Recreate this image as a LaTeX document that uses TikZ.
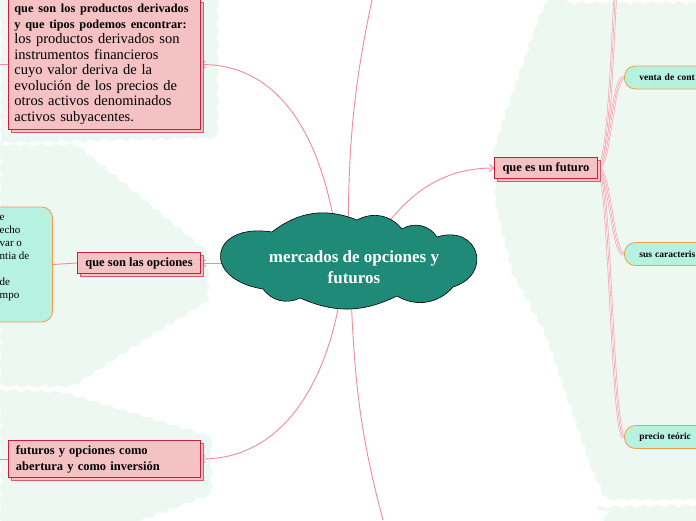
\documentclass[tikz,border=0pt]{standalone}
\usepackage{fontspec}
\setmainfont{Liberation Serif}
\usetikzlibrary{arrows.meta, positioning, shadows, decorations.pathmorphing}
\definecolor{bgmint}{HTML}{EEF8F2}
\definecolor{topicfill}{HTML}{F5C2C4}
\definecolor{topicline}{HTML}{C81E3A}
\definecolor{shadowred}{HTML}{D9596B}
\definecolor{leaffill}{HTML}{B7F2E1}
\definecolor{leafline}{HTML}{F0A042}
\definecolor{cloudteal}{HTML}{1E8A77}
\definecolor{linkpink}{HTML}{F28A98}
\pgfdeclarelayer{blobs}
\pgfdeclarelayer{wires}
\pgfsetlayers{blobs,wires,main}

\begin{document}
\begin{tikzpicture}[x=1pt, y=-1pt, >={Straight Barb[length=4pt, width=7pt]},
    topic/.style={draw=topicline, fill=topicfill, line width=0.8pt,
      general shadow={draw=shadowred, fill=topicfill, line width=0.8pt, shadow xshift=3pt, shadow yshift=-3pt},
      font=\bfseries\fontsize{12.5}{16}\selectfont, inner xsep=8pt, inner ysep=5pt},
    leaf/.style={draw=leafline, fill=leaffill, line width=0.8pt, rounded corners=11pt},
    link/.style={draw=linkpink, line width=0.9pt},
    branch/.style={draw=linkpink!75, line width=3.4pt, postaction={draw=white, line width=2pt},
      postaction={draw=linkpink!75, line width=0.7pt}},
    blob/.style={fill=bgmint, decorate, decoration={snake, amplitude=1.4pt, segment length=14pt}}]
  \useasboundingbox (0,0) rectangle (696,520);
  \coordinate (leftedge) at (0,0);

  % pale areas behind the branches
  \begin{pgfonlayer}{blobs}
    \fill[blob] (-5,-5) -- (212,-5) -- (212,133) -- (-5,138) -- cycle;
    \fill[blob] (-5,145) -- (70,145) -- (205,255) -- (205,300) -- (140,340) -- (70,385) -- (-5,385) -- cycle;
    \fill[blob] (-5,390) -- (60,392) -- (205,435) -- (205,490) -- (110,525) -- (-5,525) -- cycle;
    \fill[blob] (550,-5) -- (540,15) -- (507,110) -- (494,150) -- (496,200) -- (513,270) -- (547,333)
      -- (570,400) -- (593,467) -- (607,498) -- (701,498) -- (701,-5) -- cycle;
    \fill[blob] (597,507) -- (701,505) -- (701,525) -- (590,525) -- cycle;
  \end{pgfonlayer}

  % central cloud
  \draw[fill=cloudteal, draw=black, line width=0.6pt, line join=round]
    (263,289) to[bend left=90, looseness=2.8] (272,232) to[bend left=30] (357,220)
    to[bend left=40] (402,229) to[bend left=45] (437,237) to[bend left=90, looseness=2.1] (453,287)
    to[bend left=40] (397,296) to[bend left=25] (300,298) to[bend left=40] (263,289) -- cycle;
  \node[text=white, align=center, inner sep=0pt, font=\bfseries\fontsize{17}{21}\selectfont]
    (hub) at (354,267) {mercados de opciones y\\futuros};

  \node[topic, text width=180pt, align=left, inner xsep=6pt, anchor=south west, font=\fontsize{14.5}{15.5}\selectfont]
    (derivados) at (8,130) {{\bfseries\fontsize{12.3}{15.5}\selectfont que son los productos derivados}\\
    {\bfseries\fontsize{12.3}{15.5}\selectfont y que tipos podemos encontrar:}\\
    los productos derivados son\\instrumentos financieros\\cuyo valor deriva de la\\
    evolución de los precios de\\otros activos denominados\\activos subyacentes.};
  \node[topic] (opciones) at (139,263) {que son las opciones};
  \node[topic, text width=176pt, align=left] (abertura) at (104,459) {futuros y opciones como\\abertura y como inversión};
  \node[topic] (futuro) at (546,168) {que es un futuro};

  \node[leaf, minimum width=110pt, minimum height=115pt, anchor=east] (optleaf) at (53,264.5) {};
  \node[anchor=west, align=left, inner sep=0pt, font=\fontsize{11}{13}\selectfont] (optleaftext) at (-0.5,258)
    {e\\echo\\var o\\ntia de\\[13pt]de\\mpo};

  \node[leaf, anchor=west, text width=72pt, align=left, inner xsep=15pt, minimum height=23pt,
    font=\bfseries\fontsize{9.5}{11}\selectfont] (venta) at (624,77.5) {venta de cont};
  \node[leaf, anchor=west, text width=72pt, align=left, inner xsep=15pt, minimum height=23pt,
    font=\bfseries\fontsize{9.5}{11}\selectfont] (rasgos) at (624,254) {sus caracteris};
  \node[leaf, anchor=west, text width=72pt, align=left, inner xsep=15pt, minimum height=23pt,
    font=\bfseries\fontsize{9.5}{11}\selectfont] (teorico) at (624,437) {precio teóric};

  \coordinate (hubtop) at (372,0);
  \coordinate (hubbottom) at (383,520);
  \coordinate (futtop) at (615,0);

  \begin{pgfonlayer}{wires}
    \draw[link, ->] ([xshift=-14pt]hub.center) to[out=95, in=0] (derivados.east);
    \draw[link] ([xshift=-6pt]hub.center) to[out=90, in=258] (hubtop);
    \draw[link, ->] ([xshift=6pt]hub.center) to[out=62, in=180] (futuro.west);
    \draw[link, ->] ([yshift=4pt]hub.center) -- (opciones.east);
    \draw[link, ->] ([xshift=-10pt]hub.center) to[out=265, in=0] (abertura.east);
    \draw[link] ([xshift=-4pt]hub.center) to[out=272, in=105] (hubbottom);

    \draw[link] (derivados.west) -- (derivados.west -| leftedge);
    \draw[link] (abertura.west) -- (abertura.west -| leftedge);
    \draw[link] (opciones.west) -- (optleaf.east);

    \draw[branch] (futuro.east) .. controls +(10,0) and +(-3,60) .. (futtop);
    \draw[branch] (futuro.east) .. controls +(12,0) and +(-12,0) .. (venta.west);
    \draw[branch] (futuro.east) .. controls +(12,0) and +(-12,0) .. (rasgos.west);
    \draw[branch] (futuro.east) .. controls +(12,0) and +(-12,0) .. (teorico.west);
  \end{pgfonlayer}
\end{tikzpicture}
\end{document}
